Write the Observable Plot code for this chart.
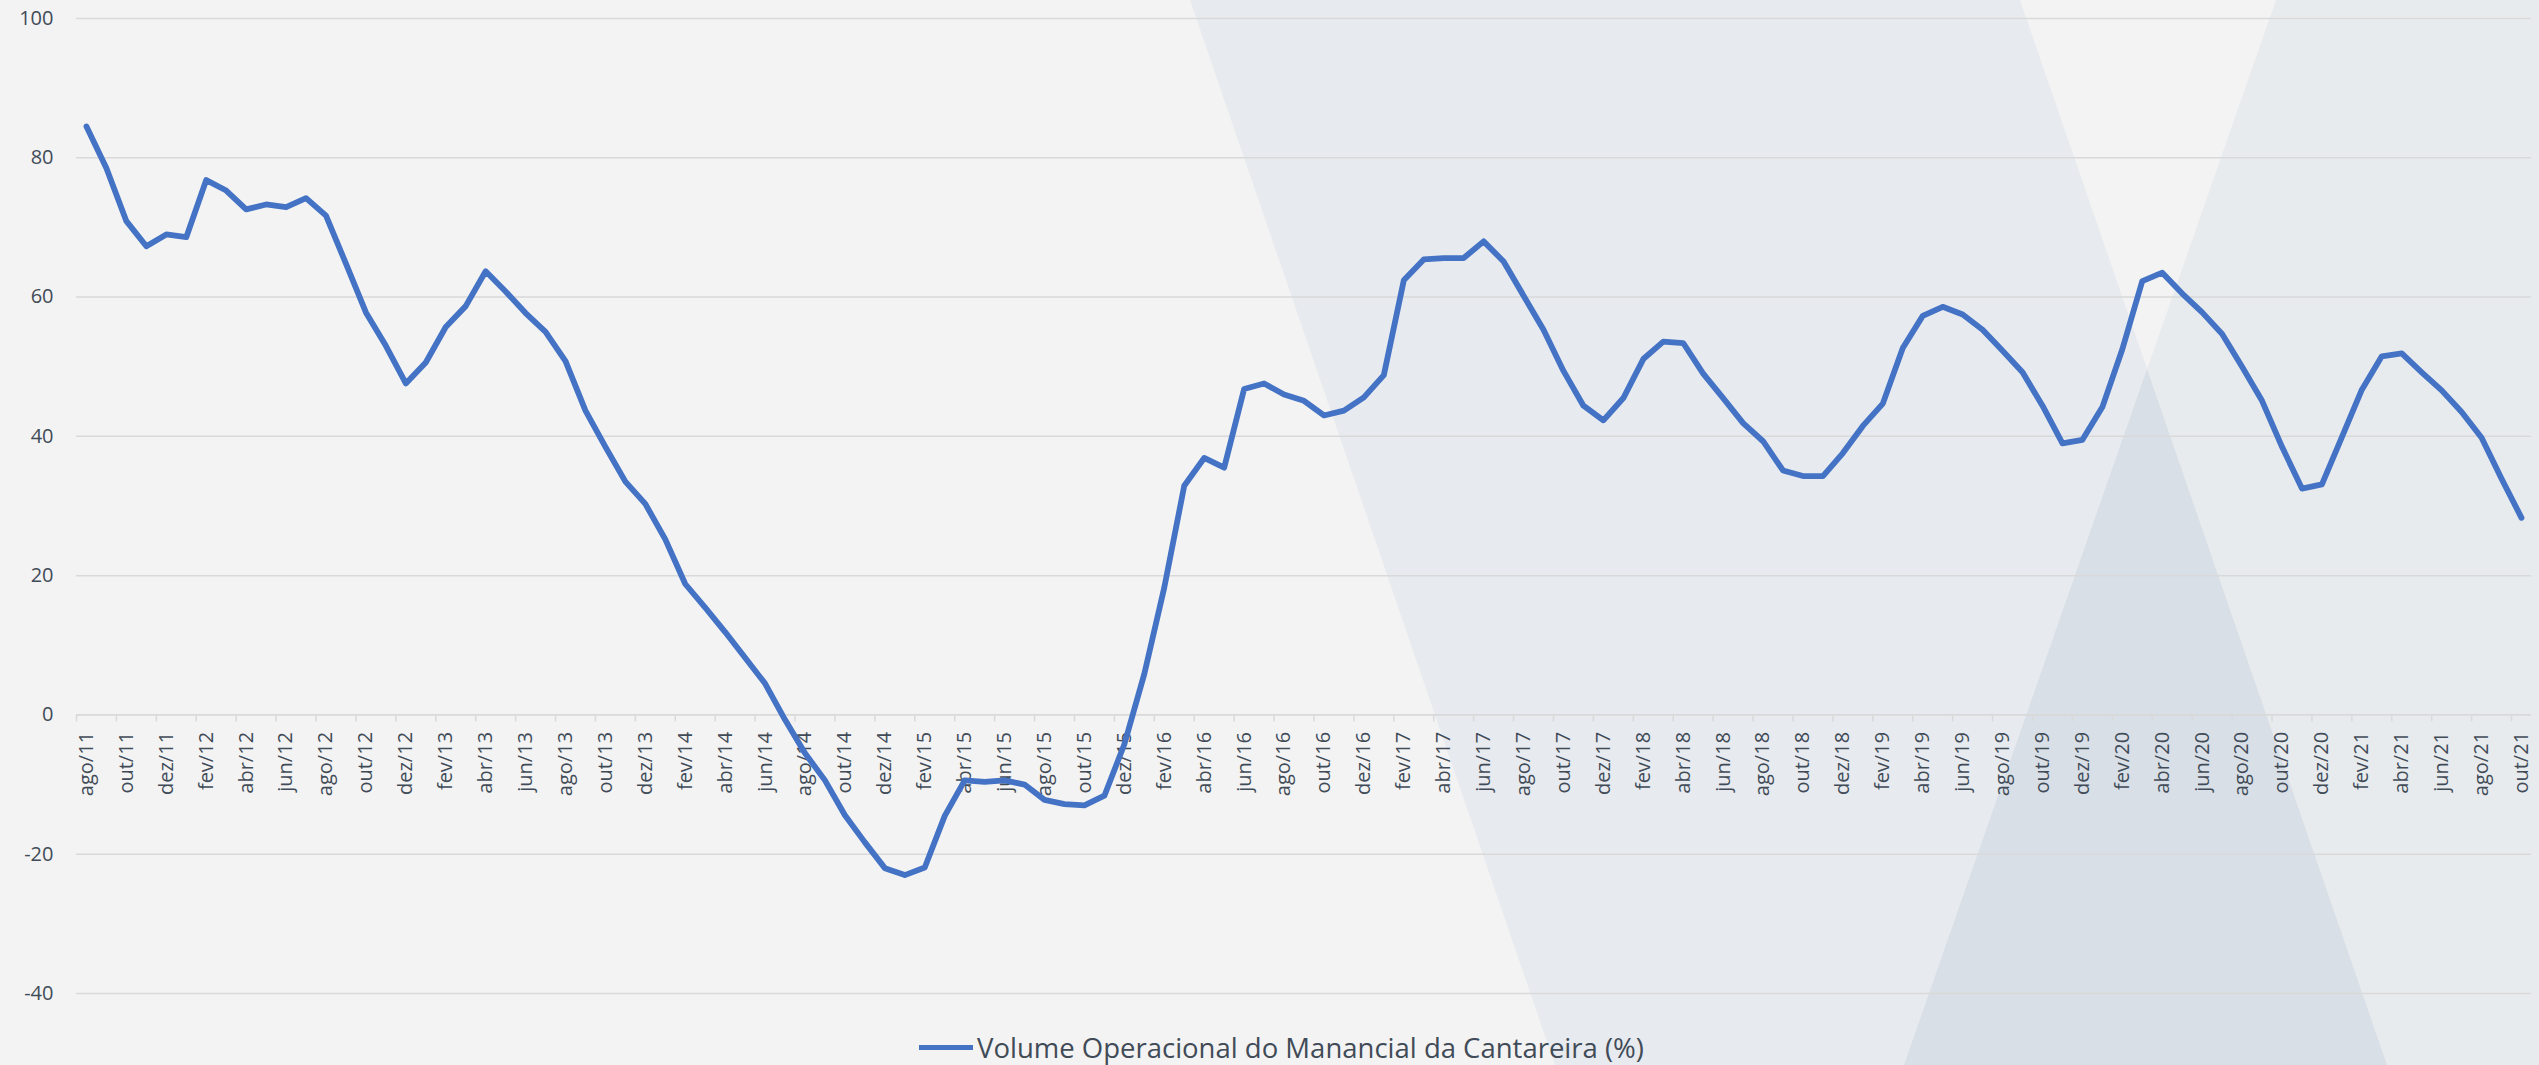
<!DOCTYPE html>
<html><head><meta charset="utf-8">
<script src="https://cdn.jsdelivr.net/npm/d3@7"></script>
<script src="https://cdn.jsdelivr.net/npm/@observablehq/plot@0.6"></script>
<style>
html,body{margin:0;padding:0;background:#f3f3f3;}
#wrap{position:relative;width:2539px;height:1065px;overflow:hidden;background:#f3f3f3;font-family:"Open Sans",sans-serif;}
.shape{position:absolute;left:0;top:0;width:2539px;height:1065px;}
#chart{position:absolute;left:0;top:0;}
#legend{position:absolute;left:919px;top:1030px;height:35px;display:flex;align-items:center;gap:4px;font-size:27.5px;color:#414b58;white-space:nowrap;}
.sw{width:54px;height:5.5px;background:#4472c4;}
</style></head>
<body><div id="wrap">
<div class="shape" style="background:#e7eaee;clip-path:polygon(1190px 0,2020px 0,2387px 1065px,1555px 1065px)"></div>
<div class="shape" style="background:#e8ebee;clip-path:polygon(2276px 0,2539px 0,2539px 1065px,1904px 1065px)"></div>
<div class="shape" style="background:#d8dfe6;clip-path:polygon(2147px 369px,2387px 1065px,1904px 1065px)"></div>
<div id="chart"></div>
<div id="legend"><div class="sw"></div><span>Volume Operacional do Manancial da Cantareira (%)</span></div>
</div>
<script>
// Volume Operacional do Manancial da Cantareira (%), monthly, ago/11 .. out/21
const values = [
  84.5, 78.5, 70.9, 67.3, 69.0, 68.6, 76.8, 75.3, 72.6, 73.3,
  72.9, 74.2, 71.7, 64.8, 57.8, 53.0, 47.6, 50.6, 55.7, 58.7,
  63.7, 60.8, 57.7, 55.0, 50.8, 43.7, 38.5, 33.5, 30.3, 25.2,
  18.8, 15.4, 11.9, 8.2, 4.5, -0.7, -5.5, -9.4, -14.4, -18.3,
  -22.0, -23.0, -21.9, -14.5, -9.4, -9.6, -9.4, -10.0, -12.2, -12.8,
  -13.0, -11.6, -4.2, 5.9, 18.3, 32.9, 36.9, 35.5, 46.8, 47.6,
  46.0, 45.1, 43.0, 43.7, 45.6, 48.8, 62.4, 65.4, 65.6, 65.6,
  68.0, 65.1, 60.2, 55.3, 49.4, 44.4, 42.3, 45.5, 51.1, 53.6,
  53.4, 49.0, 45.5, 41.9, 39.3, 35.1, 34.3, 34.3, 37.6, 41.5,
  44.7, 52.7, 57.3, 58.6, 57.5, 55.3, 52.3, 49.2, 44.4, 39.0,
  39.5, 44.2, 52.5, 62.3, 63.5, 60.5, 57.8, 54.7, 50.0, 45.1,
  38.5, 32.5, 33.1, 39.9, 46.7, 51.5, 51.9, 49.2, 46.6, 43.5,
  39.8, 33.9, 28.3
];
const tickLabels = [
  "ago/11","out/11","dez/11",
  "fev/12","abr/12","jun/12","ago/12","out/12","dez/12",
  "fev/13","abr/13","jun/13","ago/13","out/13","dez/13",
  "fev/14","abr/14","jun/14","ago/14","out/14","dez/14",
  "fev/15","abr/15","jun/15","ago/15","out/15","dez/15",
  "fev/16","abr/16","jun/16","ago/16","out/16","dez/16",
  "fev/17","abr/17","jun/17","ago/17","out/17","dez/17",
  "fev/18","abr/18","jun/18","ago/18","out/18","dez/18",
  "fev/19","abr/19","jun/19","ago/19","out/19","dez/19",
  "fev/20","abr/20","jun/20","ago/20","out/20","dez/20",
  "fev/21","abr/21","jun/21","ago/21","out/21"
];
const yTicks = [-40, -20, 0, 20, 40, 60, 80, 100];

const labelIdx = tickLabels.map((_, k) => k * 2);
const tickPos = labelIdx.map(i => i - 0.5);
const textColor = "#414b58";
const gridColor = "#d9d9d9";

const chart = Plot.plot({
  width: 2539, height: 1030,
  marginTop: 18, marginBottom: 37, marginLeft: 76, marginRight: 8,
  x: {type: "linear", domain: [-0.5, values.length - 0.5], axis: null},
  y: {domain: [-40, 100], axis: null},
  style: {background: "transparent", fontFamily: "'Open Sans', sans-serif", overflow: "visible"},
  marks: [
    Plot.ruleY(yTicks.filter(d => d !== 0), {stroke: gridColor, strokeWidth: 1.5}),
    Plot.axisY(yTicks, {tickSize: 0, tickPadding: 23, fontSize: 20, fill: textColor, tickFormat: d => String(d), label: null}),
    Plot.ruleY([0], {stroke: gridColor, strokeWidth: 1.8}),
    Plot.ruleX(tickPos, {x: d => d, y1: 0, y2: 0, insetTop: 0, insetBottom: -7, stroke: gridColor, strokeWidth: 1.5}),
    Plot.text(labelIdx, {x: i => i, y: 0, text: (i, k) => tickLabels[k], rotate: -90, textAnchor: "end", lineAnchor: "middle", dy: 17, fontSize: 20, fill: textColor}),
    Plot.line(values, {x: (d, i) => i, y: d => d, stroke: "#4472c4", strokeWidth: 5.8, strokeLinejoin: "round", strokeLinecap: "round"})
  ]
});
document.getElementById("chart").appendChild(chart);
</script>
</body></html>
